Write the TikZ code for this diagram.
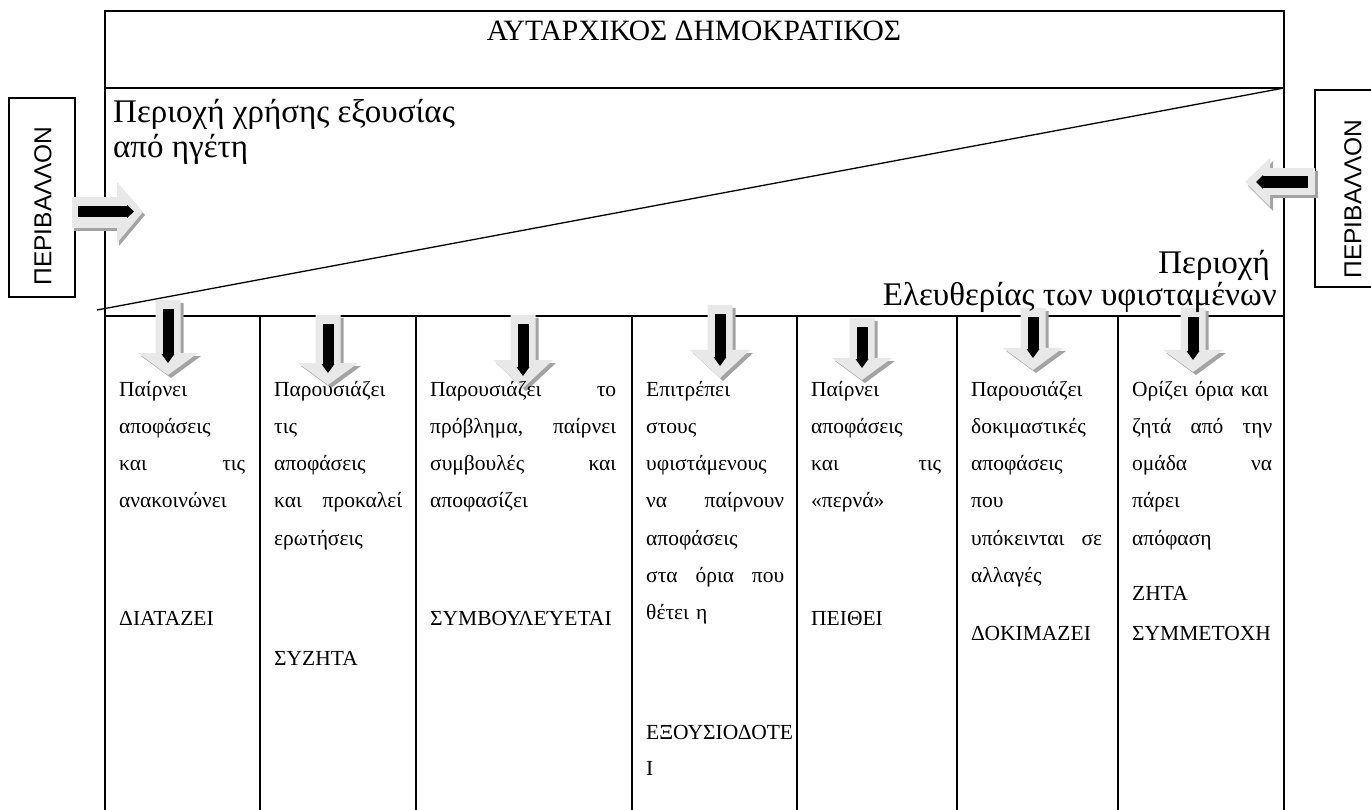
\documentclass[tikz,border=0pt]{standalone}
\usepackage{fontspec}
\setmainfont{Liberation Serif}
\newfontfamily\sansgr{Liberation Sans}
\definecolor{arrowlight}{gray}{0.91}
\definecolor{arrowshadow}{gray}{0.64}
\newcommand\blkdown[4]{% cx, top, head start, tip
  \fill[arrowshadow] ({#1-12.5+3},{#2+3}) -- ({#1+12.5+3},{#2+3}) -- ({#1+12.5+3},{#3+3}) -- ({#1+30+3},{#3+3}) -- ({#1+3},{#4+3}) -- ({#1-30+3},{#3+3}) -- ({#1-12.5+3},{#3+3}) -- cycle;
  \fill[arrowlight] ({#1-12.5},#2) -- ({#1+12.5},#2) -- ({#1+12.5},#3) -- ({#1+30},#3) -- (#1,#4) -- ({#1-30},#3) -- ({#1-12.5},#3) -- cycle;
  \fill[black] ({#1-5.5},{#2+9}) rectangle ({#1+5.5},{#4-21});
  \fill[black] ({#1-6.5},{#4-21}) -- ({#1+6.5},{#4-21}) -- (#1,{#4-12}) -- cycle;
}
\begin{document}
\begin{tikzpicture}[x=1pt,y=-1pt,
  frm/.style={line width=2pt},
  thin/.style={line width=1.3pt},
  ctext/.style={anchor=base west,inner sep=0pt,font=\fontsize{21.5}{25}\selectfont},
  big/.style={inner sep=0pt,font=\fontsize{33}{38}\selectfont},
  envtext/.style={inner sep=0pt,rotate=90,font=\sansgr\fontsize{24.5}{29}\selectfont},
  wa/.style={text width=126pt},
  wb/.style={text width=128pt},
  wc/.style={text width=186pt},
  wd/.style={text width=138pt},
  we/.style={text width=130pt},
  wf/.style={text width=131pt},
  wg/.style={text width=140pt}]
\useasboundingbox (0,0) rectangle (1371,810);
% side boxes
\draw[thin] (9,98) rectangle (75,297);
\draw[thin] (1315,90) rectangle (1390,287);
\node[envtext] (envL) at (43,206) {ΠΕΡΙΒΑΛΛΟΝ};
\node[envtext] (envR) at (1353,199) {ΠΕΡΙΒΑΛΛΟΝ};
% frame
\draw[frm] (105,815) -- (105,11) -- (1284,11) -- (1284,815);
\draw[frm] (105,88) -- (1284,88);
\draw[thin] (97,310) -- (1284,88);
\draw[frm] (105,316) -- (1284,316);
\foreach \cx in {260,416,632,797,957,1118} \draw[frm] (\cx,316) -- (\cx,815);
% side arrows
\fill[arrowshadow] (74,200) rectangle (119,231);
\fill[arrowshadow] (119,185) -- (145,215) -- (119,246) -- cycle;
\fill[arrowlight] (72,197) rectangle (117,228);
\fill[arrowlight] (117,182) -- (143,212) -- (117,243) -- cycle;
\fill[black] (78,206) rectangle (127,217);
\fill[black] (127,205) -- (134,211.5) -- (127,218) -- cycle;
\fill[arrowshadow] (1273,171) rectangle (1318,198);
\fill[arrowshadow] (1273,161) -- (1248,186) -- (1273,211) -- cycle;
\fill[arrowlight] (1270,168) rectangle (1315,195);
\fill[arrowlight] (1270,158) -- (1245,182) -- (1270,207) -- cycle;
\fill[black] (1263,176) rectangle (1308,188);
\fill[black] (1263,175) -- (1256,182) -- (1263,189) -- cycle;
% down arrows
\blkdown{168}{300}{353}{375}
\blkdown{328}{315}{363}{385}
\blkdown{523}{315}{360}{388}
\blkdown{720}{305}{350}{378}
\blkdown{862}{318}{358}{380}
\blkdown{1033}{308}{348}{370}
\blkdown{1193}{308}{350}{372}
% headings
\node[anchor=base,inner sep=0pt,font=\fontsize{29.5}{34}\selectfont] (title) at (694,41) {ΑΥΤΑΡΧΙΚΟΣ ΔΗΜΟΚΡΑΤΙΚΟΣ};
\node[big,anchor=base west] (lead1) at (113,123) {Περιοχή χρήσης εξουσίας};
\node[big,anchor=base west] (lead2) at (113,158) {από ηγέτη};
\node[big,anchor=base east] (free1) at (1270,274) {Περιοχή};
\node[big,anchor=base east] (free2) at (1277,306) {Ελευθερίας των υφισταμένων};
% column 1
\node[ctext,wa] (a1) at (119,396) {Παίρνει};
\node[ctext,wa] (a2) at (119,433) {αποφάσεις};
\node[ctext,wa] (a3) at (119,470) {και\hfill τις};
\node[ctext,wa] (a4) at (119,507) {ανακοινώνει};
\node[ctext,wa] (a5) at (119,625) {ΔΙΑΤΑΖΕΙ};
% column 2
\node[ctext,wb] (b1) at (274,396) {Παρουσιάζει};
\node[ctext,wb] (b2) at (274,433) {τις};
\node[ctext,wb] (b3) at (274,470) {αποφάσεις};
\node[ctext,wb] (b4) at (274,507) {και\hfill προκαλεί};
\node[ctext,wb] (b5) at (274,545) {ερωτήσεις};
\node[ctext,wb] (b6) at (274,665) {ΣΥΖΗΤΑ};
% column 3
\node[ctext,wc] (c1) at (430,396) {Παρουσιάζει\hfill το};
\node[ctext,wc] (c2) at (430,433) {πρόβλημα,\hfill παίρνει};
\node[ctext,wc] (c3) at (430,470) {συμβουλές\hfill και};
\node[ctext,wc] (c4) at (430,507) {αποφασίζει};
\node[ctext,wc] (c5) at (430,625) {ΣΥΜΒΟΥΛΕΎΕΤΑΙ};
% column 4
\node[ctext,wd] (d1) at (646,396) {Επιτρέπει};
\node[ctext,wd] (d2) at (646,433) {στους};
\node[ctext,wd] (d3) at (646,470) {υφιστάμενους};
\node[ctext,wd] (d4) at (646,507) {να\hfill παίρνουν};
\node[ctext,wd] (d5) at (646,545) {αποφάσεις};
\node[ctext,wd] (d6) at (646,582) {στα\hfill όρια\hfill που};
\node[ctext,wd] (d7) at (646,619) {θέτει η};
\node[ctext,wd] (d8) at (646,739) {ΕΞΟΥΣΙΟΔΟΤΕ};
\node[ctext,wd] (d9) at (646,775) {Ι};
% column 5
\node[ctext,we] (e1) at (811,396) {Παίρνει};
\node[ctext,we] (e2) at (811,433) {αποφάσεις};
\node[ctext,we] (e3) at (811,470) {και\hfill τις};
\node[ctext,we] (e4) at (811,507) {«περνά»};
\node[ctext,we] (e5) at (811,625) {ΠΕΙΘΕΙ};
% column 6
\node[ctext,wf] (f1) at (971,396) {Παρουσιάζει};
\node[ctext,wf] (f2) at (971,433) {δοκιμαστικές};
\node[ctext,wf] (f3) at (971,470) {αποφάσεις};
\node[ctext,wf] (f4) at (971,507) {που};
\node[ctext,wf] (f5) at (971,545) {υπόκεινται\hfill σε};
\node[ctext,wf] (f6) at (971,582) {αλλαγές};
\node[ctext,wf] (f7) at (971,640) {ΔΟΚΙΜΑΖΕΙ};
% column 7
\node[ctext,wg] (g1) at (1132,396) {Ορίζει όρια και};
\node[ctext,wg] (g2) at (1132,433) {ζητά\hfill από\hfill την};
\node[ctext,wg] (g3) at (1132,470) {ομάδα\hfill να};
\node[ctext,wg] (g4) at (1132,507) {πάρει};
\node[ctext,wg] (g5) at (1132,545) {απόφαση};
\node[ctext,wg] (g6) at (1132,600) {ΖΗΤΑ};
\node[ctext,wg] (g7) at (1132,640) {ΣΥΜΜΕΤΟΧΗ};
\end{tikzpicture}
\end{document}
